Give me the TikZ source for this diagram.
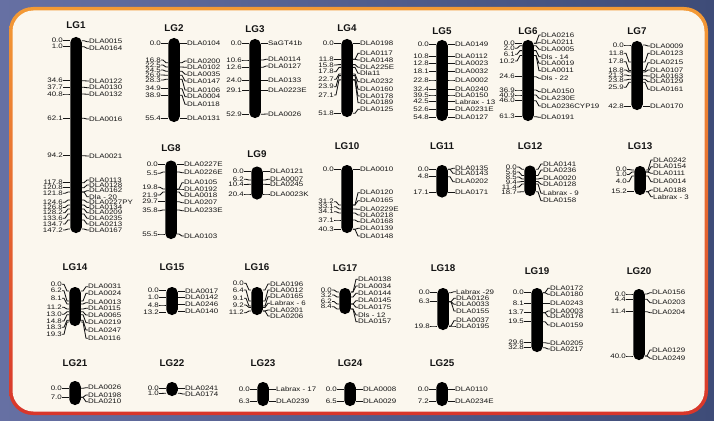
\documentclass[tikz,border=0pt]{standalone}
\usepackage{fontspec}
\setmainfont{Liberation Sans}
\newfontfamily\mapfont[FakeStretch=1.22]{Liberation Sans}
\usepackage{xcolor}
\usepackage{tikz}

\definecolor{slate}{HTML}{6670A3}
\definecolor{slatedark}{HTML}{3E4C78}
\definecolor{paper}{HTML}{FBF7EE}
\definecolor{rimtop}{HTML}{F39A35}
\definecolor{rimbot}{HTML}{D8362B}
\definecolor{ink}{HTML}{141414}

% one linkage group: name, x, bar top, bar bottom, title y, {locus/label y/cM}, {locus/label y/marker}
\newcommand{\linkgroup}[7]{%
  \pgfmathsetmacro\barh{#4-#3}%
  \pgfmathsetmacro\barc{(#3+#4)/2}%
  \node[lgtitle] (#1) at (#2,#5) {#1};
  \node[chrom, minimum height=\barh pt] (#1bar) at (#2,\barc) {};
  \foreach \ty/\ly/\lab [count=\i] in {#6} {
    \node[poslab] (#1l\i) at (#2-13,\ly) {\lab};
    \draw[tick] (#1l\i.east) -- ++(2,0) -- (#2-8,\ty) -- (#1bar.west |- 0,\ty);
  }
  \foreach \ty/\ly/\lab [count=\i] in {#7} {
    \node[marklab] (#1r\i) at (#2+13,\ly) {\lab};
    \draw[tick] (#1r\i.west) -- ++(-2,0) -- (#2+8,\ty) -- (#1bar.east |- 0,\ty);
  }
}

\begin{document}
\begin{tikzpicture}[
    x=1pt, y=-1pt,
    lgtitle/.style={font=\fontsize{9.8}{10}\selectfont\bfseries, text=ink, inner sep=0pt},
    chrom/.style={fill=black, rounded corners=5.5pt, minimum width=11.5pt, inner sep=0pt},
    poslab/.style={font=\mapfont\fontsize{6.5}{7}\selectfont, text=ink, anchor=east, inner sep=0pt},
    marklab/.style={font=\mapfont\fontsize{6.5}{7}\selectfont, text=ink, anchor=west, inner sep=0pt},
    tick/.style={draw=ink, line width=0.85pt}
  ]
  \useasboundingbox (0,0) rectangle (714,420);

  % panel
  \shade[left color=slate, right color=slatedark] (0,0) rectangle (714,420);
  \shade[top color=rimtop, bottom color=rimbot, rounded corners=24pt] (9,7) rectangle (708,415);
  \fill[paper, rounded corners=21pt] (12.5,10.5) rectangle (704.5,411.5);

  % first row
  \linkgroup{LG1}{76}{37}{233}{25}
    {40.7/40.7/0.0, 46.7/46.7/1.0, 80.7/80.7/34.6, 87.3/87.3/37.7, 94/94/40.8, 118.3/118.3/62.1,
     155.7/155.7/94.2, 182.7/182.7/117.8, 187.7/187.7/120.8, 192/193.3/121.8, 200/202.3/124.6,
     205/207.5/126.8, 209/212.7/128.2, 214/218.3/133.6, 220/224/134.7, 229/230/147.2}
    {40.7/41.7/DLA0015, 46.7/48.3/DLA0164, 80.7/81/DLA0122, 87.3/87.7/DLA0130, 94/94.3/DLA0132,
     118.3/119/DLA0016, 155.7/156/DLA0021, 182.7/180/DLA0113, 187.7/185/DLA0128, 192/190.7/DLA0162,
     192/196.7/Dla - 20, 200/202.3/DLA0227PY, 205/207.5/DLA0134, 209/212.7/DLA0209,
     214/218.3/DLA0235, 220/224/DLA0213, 229/230/DLA0167}
  \linkgroup{LG2}{174}{38}{122}{28}
    {43.3/43.3/0.0, 62.7/60/16.8, 67/65/22.5, 71.3/70/24.5, 75.3/75/26.9, 79.3/80/28.3,
     88.7/88.7/34.9, 95.3/95.3/38.9, 118.3/118.3/55.4}
    {43.3/43.3/DLA0104, 62.7/61/DLA0200, 67/67.3/DLA0102, 71.3/74.3/DLA0035, 75.3/81/DLA0147,
     79.3/90/DLA0106, 88.7/96.7/DLA0004, 95.3/104.3/DLA0118, 118.3/118.3/DLA0131}
  \linkgroup{LG3}{255}{39}{118}{29}
    {43.3/43.3/0.0, 60/60/10.6, 67.3/67.3/12.6, 80.7/80.7/24.0, 90.7/90.7/29.1, 114.3/114.3/52.9}
    {43.3/43.3/SaGT41b, 60/59.3/DLA0114, 67.3/66/DLA0127, 80.7/80.7/DLA0133, 90.7/90.7/DLA0223E,
     114.3/114/DLA0026}
  \linkgroup{LG4}{347}{39}{117}{28}
    {43.3/43.3/0.0, 59.3/59.3/11.8, 64.6/65/15.8, 67.4/71.7/17.8, 74/79.3/22.7, 75.6/86.7/23.9,
     79.9/95/27.1, 113.3/113.3/51.8}
    {43.3/43.3/DLA0198, 59.3/53.3/DLA0117, 59.3/60/DLA0148, 64.6/67.3/DLA225E, 67.4/73.3/Dla11,
     74/81.7/DLA0232, 75.6/89.3/DLA0160, 79.9/96/DLA0178, 79.9/102.7/DLA0189, 113.3/109.3/DLA0125}
  \linkgroup{LG5}{442}{40}{121}{30.7}
    {44.3/44.3/0.0, 56.7/56.7/10.8, 63.3/63.3/12.8, 71.7/71.7/18.1, 80/80/22.8, 89.3/89.3/32.4,
     95/95/39.5, 101.7/101.7/42.5, 109.3/109.3/52.6, 117.7/117.7/54.8}
    {44.3/44.3/DLA0149, 56.7/56.7/DLA0112, 63.3/63.3/DLA0023, 71.7/71.7/DLA0032, 80/80/DLA0002,
     89.3/89.3/DLA0240, 95/95/DLA0150, 101.7/101.7/Labrax - 13, 109.3/109.3/DLA0231E,
     117.7/117.7/DLA0127}
  \linkgroup{LG6}{528}{40}{121}{30.7}
    {43.3/43.3/0.0, 45.7/48.3/2.0, 50.6/54.3/6.1, 55.5/61/10.2, 76.7/76.7/24.6, 90/90/36.9,
     95/95/40.9, 100.7/100.7/46.0, 116.7/116.7/61.3}
    {43.3/35/DLA0216, 43.3/42.7/DLA0211, 45.7/49.3/DLA0005, 50.6/56.7/Dls - 14, 55.5/63.3/DLA0019,
     55.5/70.7/DLA0011, 76.7/78.3/Dls - 22, 90/91.7/DLA0150, 95/98.3/DLA230E,
     100.7/106/DLA0236CYP19, 116.7/117.3/DLA0191}
  \linkgroup{LG7}{637}{41}{110}{30.7}
    {45/45/0.0, 62/53.3/11.8, 70.6/61.7/17.8, 72/70/18.8, 75.7/75/21.3, 79.3/80/23.8,
     82.3/87.3/25.9, 106.7/106.7/42.8}
    {45/46/DLA0009, 62/53.3/DLA0123, 70.6/62.7/DLA0215, 72/70/DLA0107, 75.7/76/DLA0163,
     79.3/81.7/DLA0129, 82.3/89.3/DLA0161, 106.7/106.7/DLA0170}

  % second row
  \linkgroup{LG8}{171}{160.5}{239}{148.3}
    {164.3/164.3/0.0, 172/173.3/5.5, 189/187.3/19.8, 192/195/21.9, 201.7/201.7/29.7,
     210/210.7/35.8, 234/234/55.5}
    {164.3/164.3/DLA0227E, 172/172.7/DLA0226E, 189/182.7/DLA0105, 189/189/DLA0192,
     192/195.7/DLA0018, 201.7/202.7/DLA0207, 210/210.7/DLA0233E, 234/236/DLA0103}
  \linkgroup{LG9}{257}{166.5}{199.5}{154}
    {171.7/171.7/0.0, 180/179.3/6.2, 184.3/184.5/10.4, 194/194/20.4}
    {171.7/171.7/DLA0121, 180/179.3/DLA0007, 184.3/184.5/DLA0245, 194/194/DLA0023K}
  \linkgroup{LG10}{347}{165}{233}{146}
    {169.3/169.3/0.0, 205/201.7/31.2, 209/206.7/33.1, 213/211.7/34.1, 220/220/37.1, 229.3/229.3/40.3}
    {169.3/169.3/DLA0010, 205/192.7/DLA0120, 205/200.7/DLA0165, 209/209.3/DLA0229E,
     213/215/DLA0218, 220/221.7/DLA0168, 229.3/228.3/DLA0139, 229.3/236/DLA0148}
  \linkgroup{LG11}{442}{165}{197.5}{146}
    {169.3/169.3/0.0, 176.7/176.7/4.8, 192.7/192.7/17.1}
    {169.3/168.3/DLA0135, 169.3/173.3/DLA0143, 176.7/181.7/DLA0202, 192.7/192.7/DLA0171}
  \linkgroup{LG12}{530}{165.5}{196}{146}
    {169.3/167/0.0, 175.5/172/5.6, 179/177/8.5, 181.5/182/9.4, 184/187/11.4, 191.7/192/18.7}
    {169.3/164/DLA0141, 175.5/170/DLA0236, 179/178.3/DLA0020, 181.5/184.3/DLA0128,
     184/193.3/Labrax - 9, 191.7/200.7/DLA0158}
  \linkgroup{LG13}{640}{166}{195}{146}
    {170/169.5/0.0, 172/174.5/1.0, 176/181.7/4.0, 191.7/191.7/15.2}
    {170/160/DLA0242, 172/166.7/DLA0154, 172/173.3/DLA0111, 176/181.7/DLA0014,
     191.7/190/DLA0188, 191.7/196.7/Labrax - 3}

  % third row
  \linkgroup{LG14}{75}{287}{326}{266.7}
    {291/284.3/0.0, 301/290.7/6.2, 304/298.3/8.1, 309/307.3/11.2, 311.8/314.3/13.0,
     314.7/321/14.8, 320.3/327.3/18.3, 322/334.3/19.3}
    {291/286.7/DLA0031, 301/293.3/DLA0024, 304/302.7/DLA0013, 309/308.3/DLA0115,
     311.8/315/DLA0065, 314.7/322.7/DLA0219, 320.3/330/DLA0247, 322/338.3/DLA0116}
  \linkgroup{LG15}{172}{287}{315}{266.7}
    {290.7/290.7/0.0, 297.7/297.7/1.0, 305/305/4.8, 312.3/312.3/13.2}
    {291.7/291.7/DLA0017, 297.7/297.7/DLA0142, 304.3/304.3/DLA0246, 311.7/311.7/DLA0140}
  \linkgroup{LG16}{257}{287}{315}{266.7}
    {290/283.3/0.0, 301/290/6.4, 306/298.3/9.1, 307.5/305/9.2, 311/312.7/11.2}
    {290/284/DLA0196, 301/290/DLA0012, 306/296.7/DLA0165, 307.5/303.3/Labrax - 6,
     311/310/DLA0201, 311/316/DLA0206}
  \linkgroup{LG17}{345}{288}{314}{268.3}
    {292/290/0.0, 297/295/3.2, 304/301.5/6.2, 309/306.7/8.4}
    {292/279.3/DLA0138, 292/286/DLA0034, 297/293.3/DLA0144, 304/300.7/DLA0145,
     304/307.3/DLA0175, 309/315/Dls - 12, 309/321.7/DLA0157}
  \linkgroup{LG18}{443}{288}{330}{268.3}
    {292.7/292.7/0.0, 301.7/301.7/6.3, 326/326/19.8}
    {292.7/291.7/Labrax -29, 301.7/298.3/DLA0126, 301.7/304.3/DLA0033, 301.7/311/DLA0155,
     326/320.7/DLA0037, 326/326/DLA0195}
  \linkgroup{LG19}{537}{288}{352}{270.7}
    {292.7/292.7/0.0, 303.3/303.3/8.1, 312.7/312.7/13.7, 321.7/321.7/19.5, 342.7/342.7/29.6,
     347.7/347.7/32.8}
    {292.7/288.3/DLA0172, 292.7/294.3/DLA0180, 303.3/303.3/DLA0243, 312.7/311/DLA0003,
     312.7/316.7/DLA0176, 321.7/325/DLA0159, 342.7/343.3/DLA0205, 347.7/349/DLA0217}
  \linkgroup{LG20}{639}{289}{360}{270.7}
    {294/294/0.0, 299.3/299.3/4.4, 311.7/311.7/11.4, 356/356/40.0}
    {294/292.7/DLA0156, 299.3/302.7/DLA0203, 311.7/312.7/DLA0204, 356/350/DLA0129,
     356/358.3/DLA0249}

  % fourth row
  \linkgroup{LG21}{75}{381}{405}{363.3}
    {388.3/388.3/0.0, 397.3/397.3/7.0}
    {388.3/387.7/DLA0026, 397.3/395/DLA0198, 397.3/401.7/DLA0210}
  \linkgroup{LG22}{172}{382}{396}{363.3}
    {388.3/388.3/0.0, 393.3/393.5/1.0}
    {388.3/388.3/DLA0241, 393.3/394/DLA0174}
  \linkgroup{LG23}{263}{382}{406}{363.3}
    {389.3/389.3/0.0, 401.7/401.7/6.3}
    {389.3/389.3/Labrax - 17, 401.7/401.7/DLA0239}
  \linkgroup{LG24}{350}{382}{406}{363.3}
    {389.3/389.3/0.0, 401.7/401.7/6.5}
    {389.3/389.3/DLA0008, 401.7/401.7/DLA0029}
  \linkgroup{LG25}{442}{382}{406}{363.3}
    {389.3/389.3/0.0, 401.7/401.7/7.2}
    {389.3/389.3/DLA0110, 401.7/401.7/DLA0234E}
\end{tikzpicture}
\end{document}
